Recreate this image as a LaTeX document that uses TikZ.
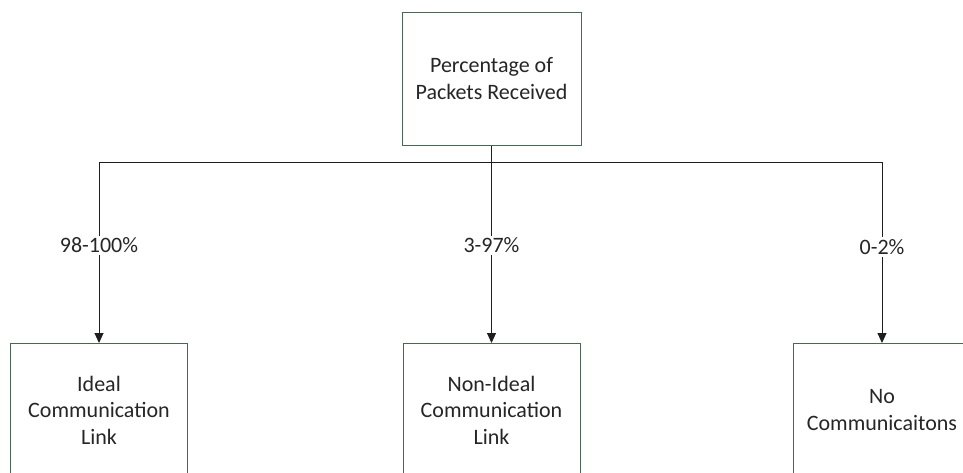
\documentclass[tikz,border=0pt]{standalone}
\usepackage{fontspec}
\setmainfont{Carlito}
\usetikzlibrary{arrows.meta}
\definecolor{boxline}{RGB}{72,104,84}
\definecolor{wire}{RGB}{30,30,30}
\tikzset{
  box/.style={draw=boxline, line width=1pt, fill=white, inner sep=0pt,
    minimum width=177pt, minimum height=133pt, align=center,
    font=\fontsize{22}{26.5}\selectfont, text=black!85},
  link/.style={draw=wire, line width=1pt},
  arr/.style={link, -{Triangle[width=9pt,length=10pt]}},
  lbl/.style={fill=white, inner sep=2pt, font=\fontsize{22}{26.5}\selectfont, text=black!85}
}
\begin{document}
\begin{tikzpicture}[x=1pt,y=-1pt]
  \useasboundingbox (0,0) rectangle (963,472);
  % decision root
  \node[box, minimum width=179pt] (root) at (491.5,78.5) {Percentage of\\Packets Received};
  % outcomes
  \node[box] (ideal) at (99,410) {Ideal\\Communication\\Link};
  \node[box] (nonideal) at (491.5,410) {Non-Ideal\\Communication\\Link};
  \node[box] (none) at (882,410) {No\\Communicaitons};
  % branching bus
  \coordinate (jL) at (99,162);
  \coordinate (jR) at (882,162);
  \coordinate (jM) at (491.5,162);
  \draw[link] (jL) -- (jR);
  \draw[link] (root.south) -- (jM);
  \draw[arr] (jL) -- node[lbl, pos=0.46] {98-100\%} (ideal.north);
  \draw[arr] (jM) -- node[lbl, pos=0.46] {3-97\%} (nonideal.north);
  \draw[arr] (jR) -- node[lbl, pos=0.47] {0-2\%} (none.north);
\end{tikzpicture}
\end{document}
